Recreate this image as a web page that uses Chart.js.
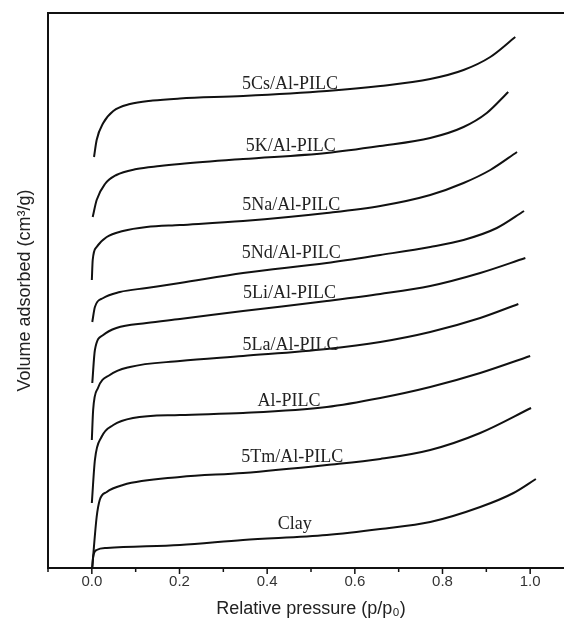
<!DOCTYPE html>
<html>
<head>
<meta charset="utf-8">
<script src="https://cdn.jsdelivr.net/npm/chart.js@4.4.1/dist/chart.umd.min.js"></script>
<style>
    html, body { margin: 0; padding: 0; background: #fff; overflow: hidden; }
    canvas { display: block; }
</style>
</head>
<body>
<canvas id="iso" width="590" height="623"></canvas>
<script>
// 1. Data (relative pressure p/p0, volume adsorbed in arbitrary units)
const sampleNames = ['5Cs/Al-PILC', '5K/Al-PILC', '5Na/Al-PILC', '5Nd/Al-PILC', '5Li/Al-PILC',
                     '5La/Al-PILC', 'Al-PILC', '5Tm/Al-PILC', 'Clay'];

const csP = [0.005, 0.011, 0.026, 0.049, 0.087, 0.139, 0.201, 0.345, 0.536, 0.658, 0.772, 0.848, 0.909, 0.966];
const csV = [411, 428, 445, 457, 464, 467.5, 469.5, 472, 477, 482, 489, 498, 511, 531];

const kP = [0.002, 0.011, 0.030, 0.056, 0.102, 0.155, 0.201, 0.345, 0.536, 0.658, 0.772, 0.848, 0.901, 0.950];
const kV = [351, 368, 384, 393, 399, 402, 404, 409, 415, 422, 430, 441, 455, 476];

const naP = [0.0, 0.002, 0.011, 0.034, 0.071, 0.125, 0.201, 0.345, 0.536, 0.658, 0.772, 0.848, 0.909, 0.970];
const naV = [288, 308, 321, 331, 337, 341, 343, 347, 355, 362, 373, 385, 398, 416];

const ndP = [0.001, 0.007, 0.026, 0.064, 0.125, 0.201, 0.345, 0.536, 0.658, 0.772, 0.848, 0.924, 0.986];
const ndV = [246, 261, 270, 276, 280, 285, 295, 305, 313, 321, 328, 340, 357];

const liP = [0.001, 0.007, 0.026, 0.056, 0.125, 0.201, 0.345, 0.536, 0.658, 0.772, 0.886, 0.989];
const liV = [185, 218, 233, 240, 245, 249, 257, 267, 274, 282, 295, 310];

const laP = [0.0, 0.003, 0.014, 0.041, 0.087, 0.201, 0.345, 0.536, 0.658, 0.772, 0.886, 0.973];
const laV = [128, 158, 180, 193, 201, 207, 212, 219, 226, 236, 250, 264];

const alP = [0.0, 0.007, 0.022, 0.049, 0.094, 0.201, 0.345, 0.536, 0.658, 0.772, 0.886, 1.0];
const alV = [65, 108, 131, 143, 150, 153, 155, 161, 170, 181, 195, 212];

const tmP = [0.001, 0.011, 0.018, 0.034, 0.071, 0.201, 0.345, 0.536, 0.658, 0.772, 0.886, 1.002];
const tmV = [1, 51, 68, 76, 83, 91, 95, 103, 109, 118, 135, 160];

const clayP = [0.001, 0.003, 0.011, 0.034, 0.201, 0.345, 0.536, 0.658, 0.772, 0.886, 0.962, 1.013];
const clayV = [1, 11, 18, 20, 23, 28, 33, 39, 46, 61, 75, 89];

// curve label anchors (data units)
const labelP = [0.452, 0.454, 0.455, 0.455, 0.451, 0.453, 0.450, 0.457, 0.463];
const labelV = [484, 422, 363, 315, 275, 223, 167, 111, 44];

const majorTicks = [0.0, 0.2, 0.4, 0.6, 0.8, 1.0];
const minorTicks = [-0.1, 0.1, 0.3, 0.5, 0.7, 0.9];

// 2. Build datasets
const seriesP = [csP, kP, naP, ndP, liP, laP, alP, tmP, clayP];
const seriesV = [csV, kV, naV, ndV, liV, laV, alV, tmV, clayV];

const datasets = sampleNames.map((name, i) => ({
    label: name,
    data: seriesP[i].map((p, j) => ({ x: p, y: seriesV[i][j] })),
    borderColor: '#111',
    borderWidth: 2,
    pointRadius: 0,
    fill: false,
    cubicInterpolationMode: 'monotone'
}));

// 3. Frame, minor ticks and curve labels
const decorPlugin = {
    id: 'decor',
    afterDatasetsDraw(chart) {
        const { ctx, chartArea: a, scales } = chart;
        ctx.save();
        ctx.strokeStyle = '#111';
        ctx.lineWidth = 2;
        ctx.strokeRect(a.left, a.top, a.right - a.left, a.bottom - a.top);

        ctx.lineWidth = 1.5;
        const tick = (v, len) => {
            const x = scales.x.getPixelForValue(v);
            ctx.beginPath();
            ctx.moveTo(x, a.bottom);
            ctx.lineTo(x, a.bottom + len);
            ctx.stroke();
        };
        majorTicks.forEach(v => tick(v, 6));
        minorTicks.forEach(v => tick(v, 4));

        ctx.fillStyle = '#222';
        ctx.font = '18px "Liberation Serif", "Times New Roman", serif';
        ctx.textAlign = 'center';
        ctx.textBaseline = 'middle';
        sampleNames.forEach((name, i) => {
            ctx.fillText(name, scales.x.getPixelForValue(labelP[i]), scales.y.getPixelForValue(labelV[i]));
        });
        ctx.restore();
    }
};

// 4. Chart
new Chart(document.getElementById('iso'), {
    type: 'scatter',
    data: { datasets },
    options: {
        responsive: false,
        animation: false,
        showLine: true,
        layout: { padding: { top: 13, right: 16, left: 0, bottom: 0 } },
        plugins: { legend: { display: false }, tooltip: { enabled: false } },
        scales: {
            x: {
                type: 'linear',
                min: -0.1,
                max: 1.1,
                afterBuildTicks: (scale) => { scale.ticks = majorTicks.map(v => ({ value: v })); },
                afterFit: (scale) => { scale.height = 55; },
                grid: { display: false, drawTicks: false },
                border: { display: false },
                ticks: {
                    padding: 5,
                    color: '#333',
                    font: { family: '"Liberation Sans", Arial, sans-serif', size: 15 },
                    callback: (v) => v.toFixed(1)
                },
                title: {
                    display: true,
                    text: 'Relative pressure (p/p\u2080)',
                    color: '#222',
                    font: { family: '"Liberation Sans", Arial, sans-serif', size: 18 },
                    padding: { top: 0, bottom: 3 }
                }
            },
            y: {
                type: 'linear',
                min: 0,
                max: 555,
                afterFit: (scale) => { scale.width = 48; },
                grid: { display: false, drawTicks: false },
                border: { display: false },
                ticks: { display: false },
                title: {
                    display: true,
                    text: 'Volume adsorbed (cm\u00b3/g)',
                    color: '#222',
                    font: { family: '"Liberation Sans", Arial, sans-serif', size: 18 },
                    padding: { top: 14, bottom: 0 }
                }
            }
        }
    },
    plugins: [decorPlugin]
});
</script>
</body>
</html>
